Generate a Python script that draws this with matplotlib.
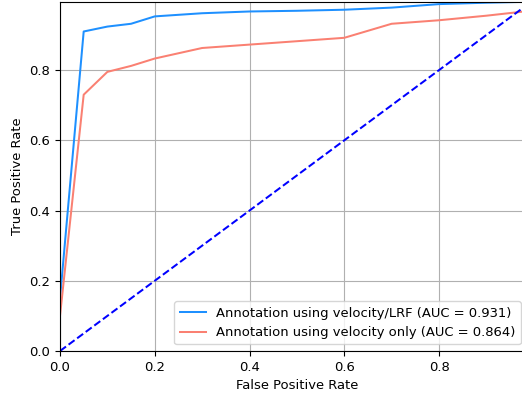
import matplotlib
matplotlib.use('Agg')
import matplotlib.pyplot as plt

# ROC points
fpr_lrf = [0.0, 0.0, 0.05, 0.10, 0.15, 0.20, 0.30, 0.40, 0.50, 0.60, 0.70, 0.80, 0.90, 1.0]
tpr_lrf = [0.0, 0.15, 0.91, 0.924, 0.932, 0.953, 0.962, 0.967, 0.969, 0.972, 0.978, 0.988, 0.992, 0.995]

fpr_vel = [0.0, 0.0, 0.05, 0.10, 0.15, 0.20, 0.30, 0.60, 0.70, 0.80, 0.90, 1.0]
tpr_vel = [0.0, 0.10, 0.73, 0.795, 0.812, 0.833, 0.863, 0.892, 0.932, 0.942, 0.955, 0.97]

label_lrf = 'Annotation using velocity/LRF (AUC = 0.931)'
label_vel = 'Annotation using velocity only (AUC = 0.864)'

plt.rcParams['font.size'] = 9.45

fig = plt.figure(figsize=(5.22, 3.93), dpi=100)
ax = fig.add_axes([60 / 522, 42 / 393, 473.75 / 522, 349 / 393])

ax.plot(fpr_lrf, tpr_lrf, color='#1E90FF', lw=1.45, label=label_lrf)
ax.plot(fpr_vel, tpr_vel, color='#FA8072', lw=1.45, label=label_vel)
ax.plot([0, 1], [0, 1], 'b--', lw=1.45)

ax.set_xlim(0, 1.0)
ax.set_ylim(0, 0.994)
ax.set_xticks([0.0, 0.2, 0.4, 0.6, 0.8])
ax.set_yticks([0.0, 0.2, 0.4, 0.6, 0.8])
ax.set_xlabel('False Positive Rate')
ax.set_ylabel('True Positive Rate')
ax.grid(True)
# the figure is cut on the right, keep the legend box inside it
ax.legend(loc='lower right', bbox_to_anchor=(0.987, 0.0))

fig.savefig('out.png', dpi=100)
